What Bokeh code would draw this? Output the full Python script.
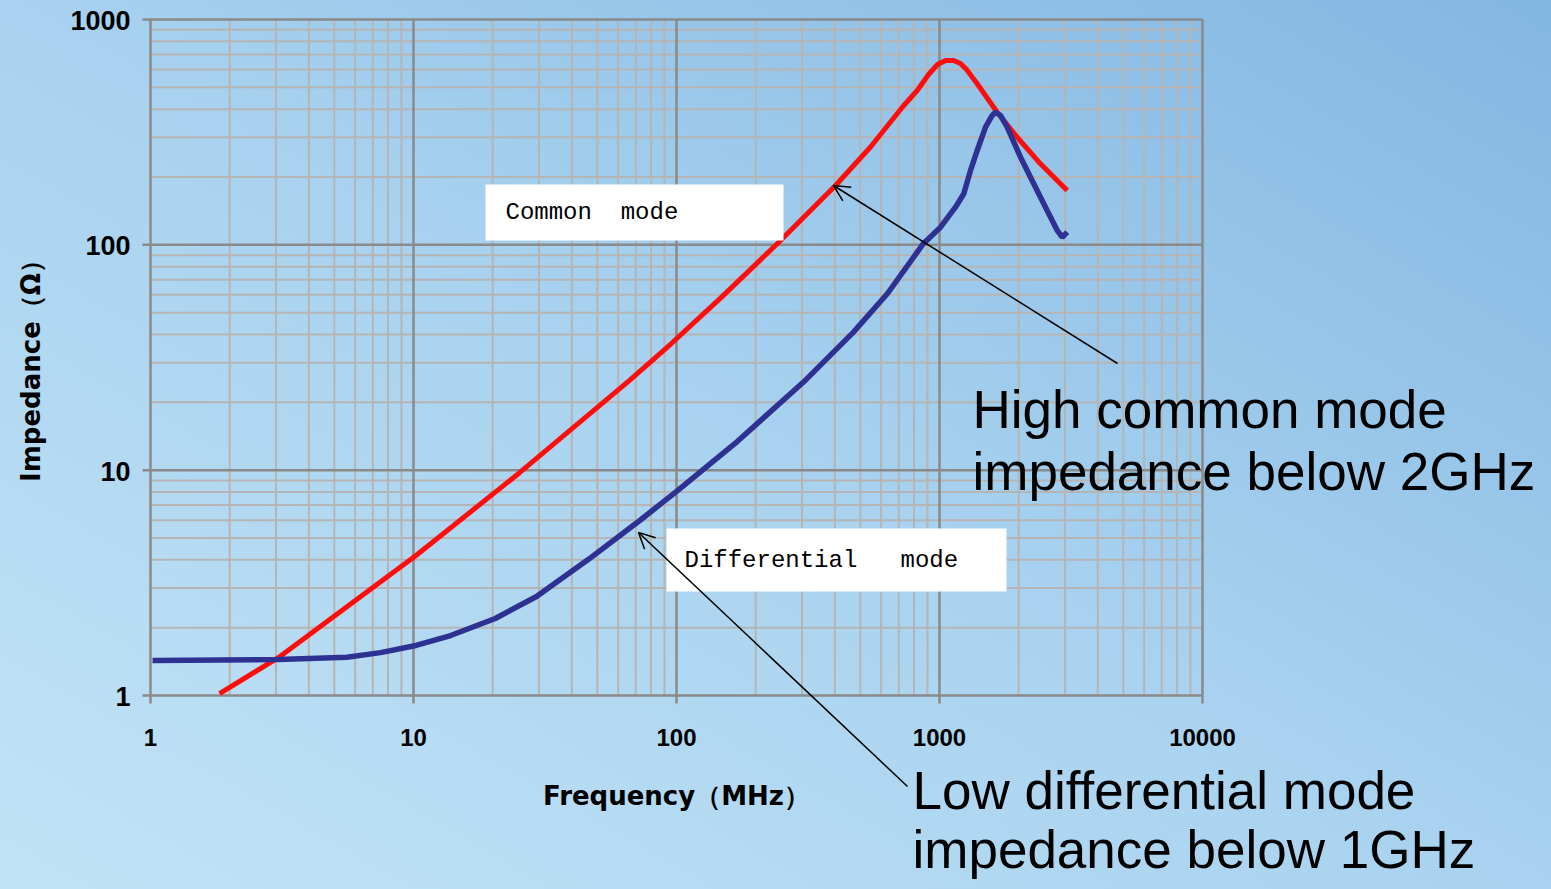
import math
from bokeh.plotting import figure
from bokeh.models import (Range1d, Label, BoxAnnotation, Arrow, OpenHead,
                          GlobalInlineStyleSheet)
from bokeh.core.properties import value
from bokeh.embed import file_html
from bokeh.resources import INLINE

# ---- data ----
freq_common = [1.83, 3.06, 10.22, 25.25, 66.3, 94.9, 147.0, 242.1, 402.3, 546.6,
               729.8, 822.8, 908.3, 983.3, 1054, 1131, 1202, 1267, 1391, 1657,
               1974, 2421, 3059]
imp_common = [1.02, 1.472, 4.18, 9.72, 25.05, 36.2, 58.0, 101.4, 183.4, 271.8,
              414.2, 484.1, 570.1, 631.5, 657.7, 657.7, 637.9, 600.0, 518.3, 387.8,
              300.4, 228.8, 174.2]

freq_diff = [1.018, 3.06, 5.59, 7.49, 10.22, 13.84, 20.45, 29.36, 46.15, 72.53,
             100.9, 170.6, 304.0, 470.9, 634.3, 869.2, 1009, 1150, 1237, 1312,
             1391, 1496, 1586, 1633, 1706, 1809, 2033, 2421, 2803, 2928, 3059]
imp_diff = [1.429, 1.444, 1.479, 1.55, 1.667, 1.845, 2.196, 2.75, 4.01, 5.98,
            8.12, 13.43, 24.6, 41.0, 60.81, 101.4, 119.8, 146.9, 168.5, 213.8,
            262.2, 332.7, 375.0, 387.8, 375.0, 332.7, 244.8, 162.7, 115.8, 108.1,
            113.8]

x_ticks = [1, 10, 100, 1000, 10000]
x_tick_labels = ["1", "10", "100", "1000", "10000"]
y_ticks = [1, 10, 100, 1000]
y_tick_labels = ["1", "10", "100", "1000"]

x_minor = [m * 10 ** k for k in range(4) for m in range(2, 10)]
y_minor = [m * 10 ** k for k in range(3) for m in range(2, 10)]

# ---- layout: the frame fills the canvas; the log-log plot area is placed inside ----
W, H = 1545, 885
X0, DX = 150, 263.0      # pixel of x=1, pixels per decade
Y0, DY = 19, 225.33      # pixel of y=1000, pixels per decade


def fx(px):
    return 10 ** ((px - X0) / DX)


def fy(py):
    return 10 ** (3 - (py - Y0) / DY)


bg = GlobalInlineStyleSheet(css="""
html { height: 100%;
  background: linear-gradient(to top right, #c2e3f6 0%, #a8d2ef 50%, #82b6e2 100%); }
body { background: transparent; }
""")

p = figure(width=W, height=H, x_axis_type="log", y_axis_type="log",
           x_axis_location=None, y_axis_location=None,
           x_range=Range1d(fx(0), fx(W)), y_range=Range1d(fy(H), fy(0)),
           output_backend="svg", toolbar_location=None, min_border=0)
p.stylesheets = [bg]
p.border_fill_alpha = 0
p.background_fill_alpha = 0
p.outline_line_color = None
p.grid.visible = False

GRID_MAJOR = "#8a8a8a"
GRID_MINOR = "#b5b5b5"
ylo, yhi = y_ticks[0], y_ticks[-1]
xlo, xhi = x_ticks[0], x_ticks[-1]

# minor grid
p.segment(x0=x_minor, y0=[ylo] * len(x_minor), x1=x_minor, y1=[yhi] * len(x_minor),
          line_color=GRID_MINOR, line_width=2)
p.segment(x0=[xlo] * len(y_minor), y0=y_minor, x1=[xhi] * len(y_minor), y1=y_minor,
          line_color=GRID_MINOR, line_width=2)
# major grid (also forms the axis lines)
p.segment(x0=x_ticks, y0=[ylo] * len(x_ticks), x1=x_ticks, y1=[yhi] * len(x_ticks),
          line_color=GRID_MAJOR, line_width=2.5)
p.segment(x0=[xlo] * len(y_ticks), y0=y_ticks, x1=[xhi] * len(y_ticks), y1=y_ticks,
          line_color=GRID_MAJOR, line_width=2.5)
# outward major ticks
p.ray(x=x_ticks, y=[ylo] * len(x_ticks), length=8, length_units="screen",
      angle=-math.pi / 2, line_color=GRID_MAJOR, line_width=2.5)
p.ray(x=[xlo] * len(y_ticks), y=y_ticks, length=8, length_units="screen",
      angle=math.pi, line_color=GRID_MAJOR, line_width=2.5)

# tick labels
p.text(x=x_ticks, y=[ylo] * len(x_ticks), text=x_tick_labels, y_offset=42,
       text_align="center", text_baseline="middle",
       text_font=value("Liberation Sans"), text_font_style="bold",
       text_font_size="24px", text_color="black")
p.text(x=[xlo] * len(y_ticks), y=y_ticks, text=y_tick_labels, x_offset=-20, y_offset=1,
       text_align="right", text_baseline="middle",
       text_font=value("Liberation Sans"), text_font_style="bold",
       text_font_size="27px", text_color="black")

# axis titles
ax_title = dict(text_font="DejaVu Sans", text_font_style="bold", text_font_size="26px",
                text_color="black", text_align="center", text_baseline="middle")
p.add_layout(Label(x=fx(676), y=fy(795), text="Frequency（MHz）", **ax_title))
p.add_layout(Label(x=fx(30), y=fy(364), text="Impedance（Ω）", angle=math.pi / 2,
                   **ax_title))

# curves
p.line(freq_common, imp_common, line_color="#ff0d0d", line_width=5)
p.line(freq_diff, imp_diff, line_color="#2e3192", line_width=5.5)

# white boxes with curve names
p.add_layout(BoxAnnotation(left=fx(485), right=fx(783), bottom=fy(240), top=fy(184),
                           fill_color="white", fill_alpha=1, line_alpha=0))
p.add_layout(BoxAnnotation(left=fx(666), right=fx(1006), bottom=fy(591), top=fy(528),
                           fill_color="white", fill_alpha=1, line_alpha=0))
mono = dict(text_font="Liberation Mono", text_font_size="24px", text_baseline="middle",
            text_color="black")
p.add_layout(Label(x=fx(505), y=fy(212), text="Common\u00a0\u00a0mode", **mono))
p.add_layout(Label(x=fx(684), y=fy(560), text="Differential\u00a0\u00a0\u00a0mode",
                   **mono))

# arrows
head = dict(size=16, line_width=1.5, line_color="black")
p.add_layout(Arrow(end=OpenHead(**head), x_start=fx(1117), y_start=fy(363),
                   x_end=fx(833), y_end=fy(185), line_width=1.5, line_color="black"))
p.add_layout(Arrow(end=OpenHead(**head), x_start=fx(907), y_start=fy(786),
                   x_end=fx(638), y_end=fy(532), line_width=1.5, line_color="black"))

# callout texts
big = dict(text_font="Liberation Sans", text_font_size="53px", text_color="black",
           text_baseline="middle")
p.add_layout(Label(x=fx(972), y=fy(409), text="High common mode", **big))
p.add_layout(Label(x=fx(972), y=fy(471), text="impedance below 2GHz", **big))
p.add_layout(Label(x=fx(912), y=fy(790), text="Low differential mode", **big))
p.add_layout(Label(x=fx(912), y=fy(849), text="impedance below 1GHz", **big))

open("out.html", "w").write(file_html(p, INLINE))
